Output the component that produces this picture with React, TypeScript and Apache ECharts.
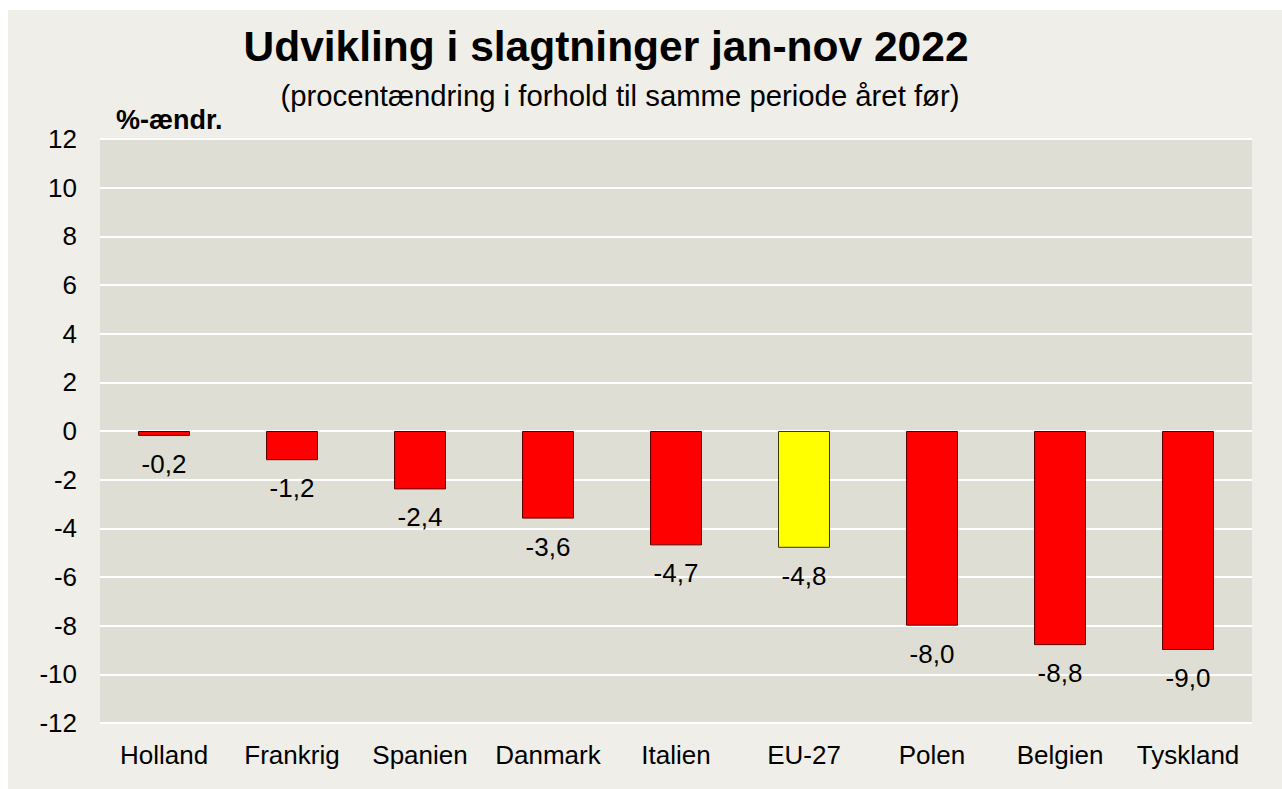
import React, { useEffect, useRef } from "react";
import * as echarts from "echarts";

const categories = ["Holland", "Frankrig", "Spanien", "Danmark", "Italien", "EU-27", "Polen", "Belgien", "Tyskland"];
const values = [-0.2, -1.2, -2.4, -3.6, -4.7, -4.8, -8.0, -8.8, -9.0];
const highlight = "EU-27";
const titleText = "Udvikling i slagtninger jan-nov 2022";
const subtitleText = "(procentændring i forhold til samme periode året før)";
const unitText = "%-ændr.";

export default function App() {
  const ref = useRef<HTMLDivElement>(null);
  useEffect(() => {
    const chart = echarts.init(ref.current!, null, { renderer: "svg" });
    const font = "'Liberation Sans', Arial, sans-serif";
    chart.setOption({
      animation: false,
      backgroundColor: "#EFEEE8",
      textStyle: { fontFamily: font },
      title: [
        {
          text: titleText,
          left: 593,
          top: 10,
          textAlign: "center",
          textStyle: { fontSize: 42.5, fontWeight: "bold", color: "#000", fontFamily: font },
        },
        {
          text: subtitleText,
          left: 607,
          top: 66,
          textAlign: "center",
          textStyle: { fontSize: 29.3, fontWeight: "normal", color: "#000", fontFamily: font },
        },
        {
          text: unitText,
          left: 103,
          top: 91,
          textStyle: { fontSize: 27, fontWeight: "bold", color: "#000", fontFamily: font },
        },
      ],
      grid: {
        left: 92,
        top: 129,
        width: 1152,
        height: 584,
        show: true,
        backgroundColor: "#DFDED4",
        borderWidth: 0,
      },
      xAxis: {
        type: "category",
        data: categories,
        position: "bottom",
        axisLine: { show: false },
        axisTick: { show: false },
        axisLabel: { fontSize: 26, color: "#000", margin: 19, interval: 0, fontFamily: font },
      },
      yAxis: {
        type: "value",
        min: -12,
        max: 12,
        interval: 2,
        axisLine: { show: false },
        axisTick: { show: false },
        axisLabel: { fontSize: 26, color: "#000", margin: 23, fontFamily: font },
        splitLine: { lineStyle: { color: "#FFFFFF", width: 2 } },
      },
      series: [
        {
          type: "bar",
          barWidth: 52,
          data: values.map((v, i) => ({
            value: v,
            itemStyle: {
              color: categories[i] === highlight ? "#FFFF00" : "#FF0000",
              borderColor: categories[i] === highlight ? "#3A3A00" : "#5A0000",
              borderWidth: 1,
            },
          })),
          label: {
            show: true,
            position: "bottom",
            distance: 15,
            fontSize: 26,
            color: "#000",
            fontFamily: font,
            formatter: (p: any) => p.value.toFixed(1).replace(".", ","),
          },
        },
      ],
    });
    return () => chart.dispose();
  }, []);
  return (
    <div
      ref={ref}
      style={{ position: "absolute", left: 8, top: 10, width: 1274, height: 779 }}
    />
  );
}
